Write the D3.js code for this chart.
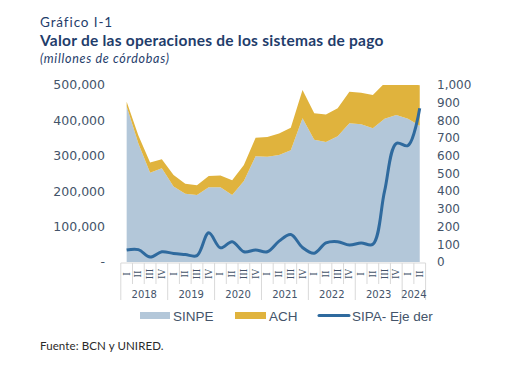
<!DOCTYPE html>
<html>
<head>
<meta charset="utf-8">
<script src="https://cdn.jsdelivr.net/npm/d3@7"></script>
<style>
  body { margin: 0; background: #fff; }
</style>
</head>
<body>
<svg id="chart"></svg>
<script>
// quarters 2018 I .. 2024 II
let years = ['2018', '2019', '2020', '2021', '2022', '2023', '2024']
let quarters = ['I', 'II', 'III', 'IV']
let categories = []
years.forEach(y => quarters.forEach(q => categories.push({ year: y, q: q })))
categories = categories.slice(0, 26)

// millones de córdobas
let sinpe = [440000, 335000, 252000, 265000, 213000, 193000, 189000, 211000, 211000, 189000, 229000, 299000, 297000,
             302000, 316000, 406000, 345000, 339000, 355000, 392000, 389000, 378000, 405000, 415000, 405000, 385000]
let ach = [13000, 22000, 29000, 25000, 33000, 28000, 28000, 32000, 33000, 42000, 45000, 52000, 56000,
           61000, 63000, 80000, 75000, 78000, 79000, 89000, 89000, 94000, 100000, 90000, 100000, 114000]
let sipa = [68, 70, 28, 58, 48, 42, 36, 165, 80, 115, 58, 68, 58, 118, 155, 82, 50, 108, 115, 96, 108, 100, 400, 670, 658, 868]

let leftTicks = [0, 100000, 200000, 300000, 400000, 500000]
let rightTicks = d3.range(0, 1001, 100)

let width = 516, height = 380
let plotTop = 85, plotBottom = 262

const svg = d3.select('#chart').attr('width', width).attr('height', height)

let x = d3.scaleBand().domain(d3.range(categories.length)).range([120.8, 425.6])
let cx = i => x(i) + x.bandwidth() / 2
let yL = d3.scaleLinear().domain([0, 500000]).range([plotBottom, plotTop])
let yR = d3.scaleLinear().domain([0, 1000]).range([plotBottom, plotTop])

svg.append('defs').append('clipPath').attr('id', 'plot')
    .append('rect').attr('x', 0).attr('y', plotTop).attr('width', width).attr('height', plotBottom - plotTop + 2)

// titles
let navy = '#1f3d6b'
svg.append('text').attr('x', 40).attr('y', 27).text('Gráfico I-1')
    .style('font-family', 'Lato, sans-serif').style('font-size', '13.5px')
    .style('letter-spacing', '0.9px').attr('fill', navy)
svg.append('text').attr('x', 40).attr('y', 46).text('Valor de las operaciones de los sistemas de pago')
    .style('font-family', 'Lato, sans-serif').style('font-size', '15.5px').style('font-weight', 'bold')
    .style('letter-spacing', '0.25px').attr('fill', navy)
svg.append('text').attr('x', 40).attr('y', 63).text('(millones de córdobas)')
    .style('font-family', 'Lato, sans-serif').style('font-size', '12.5px').style('font-style', 'italic')
    .style('letter-spacing', '0.7px').attr('fill', navy)

// stacked areas
let stackData = categories.map((c, i) => ({ i: i, sinpe: sinpe[i], ach: ach[i] }))
let series = d3.stack().keys(['sinpe', 'ach'])(stackData)
let colors = { sinpe: '#b3c7d9', ach: '#e0b33d' }

let area = d3.area()
    .x(d => cx(d.data.i))
    .y0(d => yL(d[0]))
    .y1(d => yL(d[1]))

svg.append('g').attr('clip-path', 'url(#plot)')
    .selectAll('path').data(series).join('path')
    .attr('d', area)
    .attr('fill', d => colors[d.key])

// SIPA line, right axis
let line = d3.line()
    .x((d, i) => cx(i))
    .y(d => yR(d))
    .curve(d3.curveCatmullRom.alpha(0.5))

svg.append('path').datum(sipa)
    .attr('d', line)
    .attr('fill', 'none')
    .attr('stroke', '#2f6a9e')
    .attr('stroke-width', 3)
    .attr('stroke-linejoin', 'round')

// left axis labels
let tickColor = '#44546a'
svg.append('g').selectAll('text').data(leftTicks).join('text')
    .attr('x', 105)
    .attr('y', d => yL(d))
    .attr('dy', '0.35em')
    .attr('text-anchor', 'end')
    .text(d => d === 0 ? '-' : d3.format(',')(d))
    .style('font-family', 'DejaVu Sans, Verdana, sans-serif').style('font-size', '12.5px')
    .attr('fill', tickColor)

// right axis labels
svg.append('g').selectAll('text').data(rightTicks).join('text')
    .attr('x', 437)
    .attr('y', d => yR(d))
    .attr('dy', '0.35em')
    .text(d => d3.format(',')(d))
    .style('font-family', 'DejaVu Sans, Verdana, sans-serif').style('font-size', '12px')
    .attr('fill', tickColor)

// category axis
let axisY = plotBottom + 1
let gridColor = '#d9d9d9'
let xa = svg.append('g')
xa.append('line')
    .attr('x1', x.range()[0]).attr('x2', x.range()[1])
    .attr('y1', axisY).attr('y2', axisY)
    .attr('stroke', gridColor)

// separators: year boundaries long, quarter boundaries short
let bounds = d3.range(categories.length + 1)
xa.selectAll('line.sep').data(bounds).join('line')
    .attr('class', 'sep')
    .attr('x1', i => x.range()[0] + i * x.step())
    .attr('x2', i => x.range()[0] + i * x.step())
    .attr('y1', axisY)
    .attr('y2', i => (i % 4 === 0 || i === categories.length) ? 300 : 284)
    .attr('stroke', gridColor)

xa.selectAll('text.q').data(categories).join('text')
    .attr('class', 'q')
    .attr('transform', (d, i) => `translate(${cx(i) + 3},${274}) rotate(-90)`)
    .attr('text-anchor', 'middle')
    .text(d => d.q)
    .style('font-family', 'DejaVu Serif, serif').style('font-size', '9px')
    .attr('fill', tickColor)

let yearPos = years.map(y => {
    let idx = categories.map((c, i) => c.year === y ? i : -1).filter(i => i >= 0)
    return { year: y, x: (cx(idx[0]) + cx(idx[idx.length - 1])) / 2 }
})
xa.selectAll('text.yr').data(yearPos).join('text')
    .attr('class', 'yr')
    .attr('x', d => d.x)
    .attr('y', 298)
    .attr('text-anchor', 'middle')
    .text(d => d.year)
    .style('font-family', 'DejaVu Sans, Verdana, sans-serif').style('font-size', '10px')
    .attr('fill', tickColor)

// legend
let lg = svg.append('g').style('font-family', 'Liberation Sans, Arial, sans-serif').style('font-size', '13.5px')
lg.append('rect').attr('x', 140).attr('y', 312).attr('width', 30).attr('height', 7).attr('fill', colors.sinpe)
lg.append('text').attr('x', 173).attr('y', 320.5).text('SINPE').attr('fill', tickColor)
lg.append('rect').attr('x', 235).attr('y', 312).attr('width', 31).attr('height', 7).attr('fill', colors.ach)
lg.append('text').attr('x', 269).attr('y', 320.5).text('ACH').attr('fill', tickColor)
lg.append('line').attr('x1', 319).attr('x2', 349).attr('y1', 315.5).attr('y2', 315.5)
    .attr('stroke', '#2f6a9e').attr('stroke-width', 3).attr('stroke-linecap', 'round')
lg.append('text').attr('x', 352).attr('y', 320.5).text('SIPA- Eje der').attr('fill', tickColor)

svg.append('text').attr('x', 40).attr('y', 350).text('Fuente: BCN y UNIRED.')
    .style('font-family', 'Lato, sans-serif').style('font-size', '11.5px').style('font-weight', '400')
    .style('letter-spacing', '0.1px').attr('fill', '#2a2a2a')
</script>
</body>
</html>
